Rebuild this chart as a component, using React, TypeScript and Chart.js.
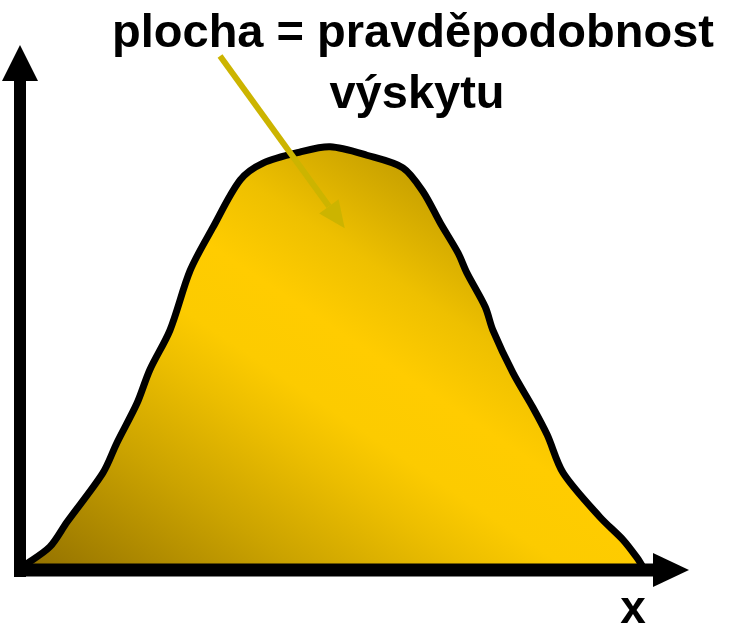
import React, { useEffect, useRef } from "react";
import { Chart, registerables } from "chart.js";

Chart.register(...registerables);

// x positions (arbitrary units 0..10) and density values of the curve outline
const xValues = [
  0.06, 0.47, 0.74, 1.31, 1.53, 1.85, 2.05, 2.37, 2.69, 3.05, 3.48, 3.84, 4.42,
  4.9, 5.48, 6.05, 6.37, 6.64, 6.92, 7.06, 7.35, 7.47, 7.79, 8.1, 8.33, 8.58,
  9.16, 9.53, 9.75, 9.83,
];
const densityValues = [
  0.008, 0.044, 0.091, 0.185, 0.242, 0.318, 0.381, 0.457, 0.571, 0.653, 0.743,
  0.775, 0.796, 0.806, 0.79, 0.766, 0.72, 0.661, 0.604, 0.566, 0.501, 0.457,
  0.375, 0.31, 0.257, 0.185, 0.101, 0.057, 0.023, 0.008,
];
const titleLines = ["plocha = pravděpodobnost", "výskytu"];
const axisLabel = "x";
// annotation arrow (data coordinates): tail and tip
const pointerTail = [3.16, 0.979];
const pointerTip = [5.13, 0.651];

const W = 731;
const H = 626;

const decorPlugin = {
  id: "decor",
  afterDatasetsDraw(chart: any) {
    const { ctx, scales } = chart;
    const xs = scales.x;
    const ys = scales.y;
    const x0 = xs.getPixelForValue(0);
    const y0 = ys.getPixelForValue(0);
    const xEnd = xs.getPixelForValue(10);
    const yTop = ys.getPixelForValue(1);
    ctx.save();

    // pointer arrow
    const tx = xs.getPixelForValue(pointerTail[0]);
    const ty = ys.getPixelForValue(pointerTail[1]);
    const hx = xs.getPixelForValue(pointerTip[0]);
    const hy = ys.getPixelForValue(pointerTip[1]);
    const ang = Math.atan2(hy - ty, hx - tx);
    const headLen = 27;
    const headHalf = 12;
    const bx = hx - headLen * Math.cos(ang);
    const by = hy - headLen * Math.sin(ang);
    ctx.strokeStyle = "#ccb400";
    ctx.fillStyle = "#ccb400";
    ctx.lineWidth = 6;
    ctx.lineCap = "butt";
    ctx.beginPath();
    ctx.moveTo(tx, ty);
    ctx.lineTo(bx, by);
    ctx.stroke();
    ctx.beginPath();
    ctx.moveTo(hx, hy);
    ctx.lineTo(bx + headHalf * Math.sin(ang), by - headHalf * Math.cos(ang));
    ctx.lineTo(bx - headHalf * Math.sin(ang), by + headHalf * Math.cos(ang));
    ctx.closePath();
    ctx.fill();

    // axes
    ctx.fillStyle = "#000";
    ctx.strokeStyle = "#000";
    ctx.lineWidth = 12;
    // y axis
    ctx.beginPath();
    ctx.moveTo(x0, y0 + 7);
    ctx.lineTo(x0, yTop + 36);
    ctx.stroke();
    ctx.beginPath();
    ctx.moveTo(x0, yTop);
    ctx.lineTo(x0 - 18, yTop + 36);
    ctx.lineTo(x0 + 18, yTop + 36);
    ctx.closePath();
    ctx.fill();
    // x axis
    ctx.lineWidth = 13;
    ctx.beginPath();
    ctx.moveTo(x0 - 6, y0);
    ctx.lineTo(xEnd, y0);
    ctx.stroke();
    ctx.beginPath();
    ctx.moveTo(xEnd + 36, y0);
    ctx.lineTo(xEnd, y0 - 17);
    ctx.lineTo(xEnd, y0 + 17);
    ctx.closePath();
    ctx.fill();

    // texts
    ctx.font = 'bold 47px "Liberation Sans", Arial, sans-serif';
    ctx.textAlign = "center";
    ctx.textBaseline = "alphabetic";
    ctx.fillText(titleLines[0], 413, 47);
    ctx.fillText(titleLines[1], 417, 108);
    ctx.font = 'bold 46px "Liberation Sans", Arial, sans-serif';
    ctx.fillText(axisLabel, 633, 623);
    ctx.restore();
  },
};

export default function App() {
  const ref = useRef<HTMLCanvasElement | null>(null);
  useEffect(() => {
    if (!ref.current) return;
    const chart = new Chart(ref.current, {
      type: "line",
      data: {
        datasets: [
          {
            data: xValues.map((x, i) => ({ x, y: densityValues[i] })),
            borderColor: "#000",
            borderWidth: 7,
            borderJoinStyle: "round",
            borderCapStyle: "round",
            pointRadius: 0,
            tension: 0.3,
            fill: "origin",
            clip: false as any,
            backgroundColor: (c: any) => {
              const chart = c.chart;
              const area = chart.chartArea;
              if (!area) return "#ffcc00";
              const g = chart.ctx.createLinearGradient(
                area.left + 20,
                area.bottom - 5,
                area.left + 315,
                area.top + 80
              );
              g.addColorStop(0, "#967400");
              g.addColorStop(0.27, "#cba300");
              g.addColorStop(0.45, "#ecbe00");
              g.addColorStop(0.55, "#fccb00");
              g.addColorStop(0.68, "#ffcc00");
              g.addColorStop(0.82, "#eec000");
              g.addColorStop(1, "#c9a200");
              return g;
            },
          } as any,
        ],
      },
      options: {
        animation: false,
        responsive: false,
        maintainAspectRatio: false,
        layout: { padding: { left: 20, right: W - 653, top: 45, bottom: H - 570 } },
        scales: {
          x: { type: "linear", min: 0, max: 10, display: false },
          y: { type: "linear", min: 0, max: 1, display: false },
        },
        plugins: {
          legend: { display: false },
          tooltip: { enabled: false },
          title: { display: false },
        },
      },
      plugins: [decorPlugin],
    });
    return () => chart.destroy();
  }, []);
  return (
    <div style={{ position: "fixed", left: 0, top: 0, width: W, height: H, background: "#fff" }}>
      <canvas ref={ref} width={W} height={H} style={{ width: W, height: H, display: "block" }} />
    </div>
  );
}
